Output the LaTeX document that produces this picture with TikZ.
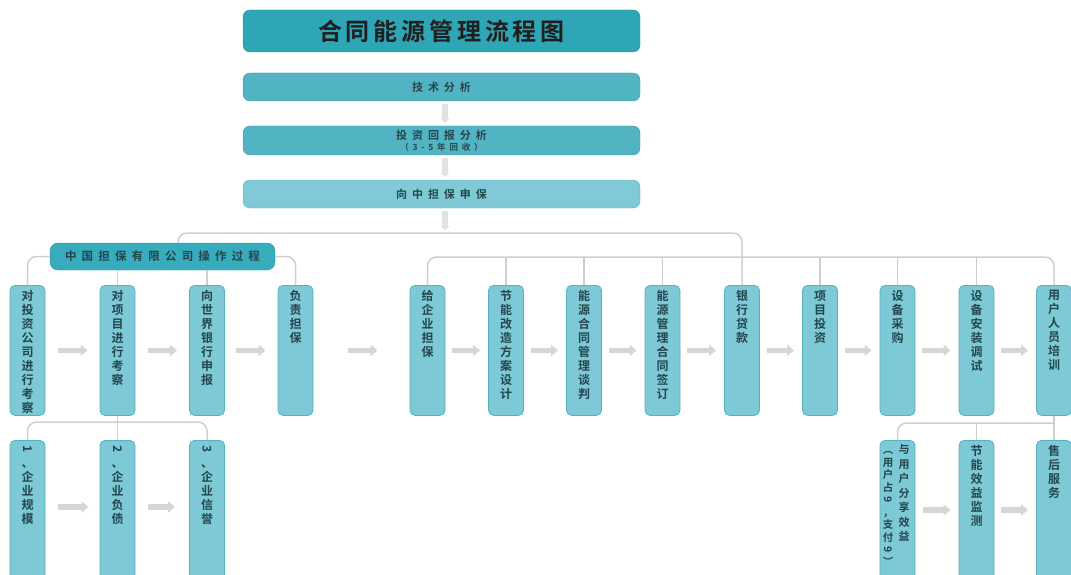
\documentclass[tikz,border=0pt]{standalone}
\usepackage{fontspec}
\usepackage{graphicx}
\usetikzlibrary{arrows.meta,calc}
\setmainfont{Noto Sans CJK SC}
\newfontfamily\vfont{Noto Sans CJK SC Bold}
\newfontfamily\spfont[LetterSpace=45]{Noto Sans CJK SC Bold}
\newfontfamily\titlefont[LetterSpace=16]{Noto Sans CJK SC Bold}
\definecolor{titlec}{HTML}{2FA6B5}
\definecolor{midc}{HTML}{52B4C3}
\definecolor{lightc}{HTML}{7FCAD6}
\definecolor{vboxc}{HTML}{7DC9D5}
\definecolor{vedge}{HTML}{55B2C1}
\definecolor{labc}{HTML}{36ACBC}
\definecolor{linec}{HTML}{CFCFCF}
\definecolor{arrc}{HTML}{D6D6D6}
\definecolor{txt}{HTML}{24464E}
\ExplSyntaxOn
\NewDocumentCommand\vchars{m}{\tl_map_inline:nn {#1} { ##1 \par }}
\ExplSyntaxOff
\newcommand\vtext[2][130]{\parbox[c][#1pt][t]{34pt}{\centering\vfont\fontsize{12}{14}\selectfont\vspace*{5pt}\vchars{#2}}}
\newcommand\rot[1]{\rotatebox[origin=c]{-90}{#1}}
\tikzset{
  widebox/.style={draw=#1!85!black, fill=#1, rounded corners=7pt, minimum width=397pt, inner sep=0pt, text=txt},
  vbox/.style={draw=vedge, fill=vboxc, rounded corners=5pt, minimum width=35pt, inner sep=0pt, anchor=north, text=txt, line width=0.8pt},
  conn/.style={draw=linec, line width=1.5pt, rounded corners=9pt},
  harrow/.style={draw=arrc, line width=5.5pt, -{Triangle[length=7pt,width=11pt]}},
  varrow/.style={draw=arrc!70!white, line width=6pt, -{Triangle[length=4pt,width=9pt]}, shorten <=3pt, shorten >=3pt},
}
\begin{document}
\begin{tikzpicture}[x=1pt,y=-1pt]
\useasboundingbox (0,0) rectangle (1071,575);
% top column
\node[widebox=titlec, minimum height=42pt, text=black!88] (title) at (441.5,31) {\titlefont\fontsize{24}{26}\selectfont 合同能源管理流程图};
\node[widebox=midc, minimum height=28pt] (b2) at (441.5,87) {\spfont\fontsize{11}{12}\selectfont 技术分析};
\node[widebox=midc, minimum height=29pt, align=center] (b3) at (441.5,140.5) {\spfont\fontsize{11}{12}\selectfont 投资回报分析\\[-1pt]{\spfont\fontsize{8.5}{9}\selectfont （3-5年回收）}};
\node[widebox=lightc, minimum height=28pt] (b4) at (441.5,194) {\spfont\fontsize{11}{12}\selectfont 向中担保申保};
\coordinate (a4) at (445,230);
\draw[varrow] ([xshift=3.5pt]b2.south) -- ([xshift=3.5pt]b3.north);
\draw[varrow] ([xshift=3.5pt]b3.south) -- ([xshift=3.5pt]b4.north);
\draw[varrow, shorten >=0pt] ([xshift=3.5pt]b4.south) -- (a4);
% label
\node[draw=labc!85!black, fill=labc, rounded corners=8pt, minimum width=225pt, minimum height=27pt, inner sep=0pt, text=txt] (lab) at (162.5,256.5) {\spfont\fontsize{11.5}{12}\selectfont 中国担保有限公司操作过程};
% left row
\node[vbox, minimum height=130pt] (l1) at (27.5,285) {\vtext{对投资公司进行考察}};
\node[vbox, minimum height=130pt] (l2) at (117.5,285) {\vtext{对项目进行考察}};
\node[vbox, minimum height=130pt] (l3) at (207,285) {\vtext{向世界银行申报}};
\node[vbox, minimum height=130pt] (l4) at (295.5,285) {\vtext{负责担保}};
% right row
\node[vbox, minimum height=130pt] (r1) at (427.5,285) {\vtext{给企业担保}};
\node[vbox, minimum height=130pt] (r2) at (506,285) {\vtext{节能改造方案设计}};
\node[vbox, minimum height=130pt] (r3) at (584,285) {\vtext{能源合同管理谈判}};
\node[vbox, minimum height=130pt] (r4) at (662.5,285) {\vtext{能源管理合同签订}};
\node[vbox, minimum height=130pt] (r5) at (742,285) {\vtext{银行贷款}};
\node[vbox, minimum height=130pt] (r6) at (820,285) {\vtext{项目投资}};
\node[vbox, minimum height=130pt] (r7) at (897.5,285) {\vtext{设备采购}};
\node[vbox, minimum height=130pt] (r8) at (976.5,285) {\vtext{设备安装调试}};
\node[vbox, minimum height=130pt] (r9) at (1054,285) {\vtext{用户人员培训}};
% bottom left
\node[vbox, minimum height=140pt] (bl1) at (27.5,440) {\vtext[140]{{\rot{1}}、企业规模}};
\node[vbox, minimum height=140pt] (bl2) at (117.5,440) {\vtext[140]{{\rot{2}}、企业负债}};
\node[vbox, minimum height=140pt] (bl3) at (207,440) {\vtext[140]{{\rot{3}}、企业信誉}};
% bottom right
\node[vbox, minimum height=140pt] (br1) at (897.5,440) {\parbox[c][140pt][t]{34pt}{\vspace*{4pt}\vfont\fontsize{11}{14.5}\selectfont
  \parbox[t]{15pt}{\centering\fontsize{10.5}{12.5}\selectfont\vchars{{\rot{（}}用户占{\rot{9}}，支付{\rot{9}}{\rot{）}}}}\hspace{1pt}%
  \parbox[t]{15pt}{\centering\vchars{与用户分享效益}}}};
\node[vbox, minimum height=140pt] (br2) at (976.5,440) {\vtext[140]{节能效益监测}};
\node[vbox, minimum height=140pt] (br3) at (1054,440) {\vtext[140]{售后服务}};
% connectors
\coordinate (t1) at (178,233);
\coordinate (t2) at (0,257);
\coordinate (t3) at (0,422);
\coordinate (t4) at (0,423);
\draw[conn] (lab.north -| t1) -- (t1) -| (r5.north);
\draw[conn] (r1.north) -- (r1.north |- t2) -| (r9.north);
\foreach \n in {r2,r3,r4,r6,r7,r8} \draw[conn] (\n.north) -- (\n.north |- t2);
\draw[conn] (lab.west) -| (l1.north);
\draw[conn] (lab.east) -| (l4.north);
\draw[conn] (l2.north) -- (l2.north |- lab.south);
\draw[conn] (l3.north) -- (l3.north |- lab.south);
\draw[conn] (bl1.north) -- (bl1.north |- t3) -| (bl3.north);
\draw[conn] (l2.south) -- (bl2.north);
\draw[conn] (r9.south) -- (br3.north);
\draw[conn] (br1.north) -- (br1.north |- t4) -- (r9.south |- t4);
\draw[conn] (br2.north) -- (br2.north |- t4);
% arrows
\draw[harrow, shorten <=13pt, shorten >=12pt] (l1) -- (l2);
\draw[harrow, shorten <=13pt, shorten >=12pt] (l2) -- (l3);
\draw[harrow, shorten <=11pt, shorten >=12pt] (l3) -- (l4);
\draw[harrow, shorten <=35pt, shorten >=32pt] (l4) -- (r1);
\foreach \a/\b in {r1/r2,r2/r3,r3/r4,r4/r5,r5/r6,r6/r7,r7/r8,r8/r9}
  \draw[harrow, shorten <=7pt, shorten >=8pt] (\a) -- (\b);
\draw[harrow, shorten <=30pt, shorten >=29pt] ($(bl1.north)+(0,67)$) -- ($(bl2.north)+(0,67)$);
\draw[harrow, shorten <=30pt, shorten >=32pt] ($(bl2.north)+(0,67)$) -- ($(bl3.north)+(0,67)$);
\draw[harrow, shorten <=25pt, shorten >=26pt] ($(br1.north)+(0,70)$) -- ($(br2.north)+(0,70)$);
\draw[harrow, shorten <=24pt, shorten >=26pt] ($(br2.north)+(0,70)$) -- ($(br3.north)+(0,70)$);
\end{tikzpicture}
\end{document}
